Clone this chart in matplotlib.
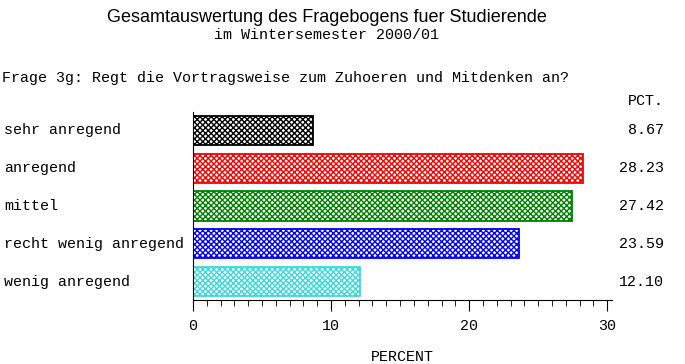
import matplotlib
matplotlib.use("Agg")
import matplotlib.pyplot as plt
from matplotlib.ticker import MultipleLocator
from matplotlib.transforms import blended_transform_factory

categories = ["sehr anregend", "anregend", "mittel", "recht wenig anregend", "wenig anregend"]
values = [8.67, 28.23, 27.42, 23.59, 12.10]
value_labels = ["8.67", "28.23", "27.42", "23.59", "12.10"]
colors = ["#000000", "#ff0000", "#008000", "#0000ff", "#40d8d8"]
xticks = [0, 10, 20, 30]

W, H = 685, 364
fig = plt.figure(figsize=(W / 100, H / 100), dpi=100)
mono = "Liberation Mono"
fs = 10.8

ax = fig.add_axes([193 / W, 1 - 300 / H, (612 - 193) / W, (300 - 112) / H])
ypos = list(range(len(categories)))
for y, v, c in zip(ypos, values, colors):
    ax.barh(y, v, height=0.77, color="white", edgecolor=c, hatch="xxxxxx", linewidth=1.3)

ax.set_xlim(0, 30.35)
ax.set_ylim(4.49, -0.49)
ax.spines["top"].set_visible(False)
ax.spines["right"].set_visible(False)
ax.set_xticks(xticks)
ax.xaxis.set_minor_locator(MultipleLocator(1))
ax.tick_params(axis="x", which="major", length=8, direction="out", pad=6)
ax.tick_params(axis="x", which="minor", length=4, direction="out")
ax.set_yticks([])
for lbl in ax.get_xticklabels():
    lbl.set_fontfamily(mono)
    lbl.set_fontsize(fs)
ax.set_xlabel("PERCENT", fontfamily=mono, fontsize=fs, labelpad=12)

trans = blended_transform_factory(fig.transFigure, ax.transData)
for y, cat, vl in zip(ypos, categories, value_labels):
    fig.text(4 / W, y, cat, fontfamily=mono, fontsize=fs, ha="left", va="center", transform=trans)
    fig.text(664 / W, y, vl, fontfamily=mono, fontsize=fs, ha="right", va="center", transform=trans)

fig.text(664 / W, 1 - 101 / H, "PCT.", fontfamily=mono, fontsize=fs, ha="right", va="center")
fig.text(2 / W, 1 - 78 / H, "Frage 3g: Regt die Vortragsweise zum Zuhoeren und Mitdenken an?",
         fontfamily=mono, fontsize=fs, ha="left", va="center")
fig.text(327 / W, 1 - 17 / H, "Gesamtauswertung des Fragebogens fuer Studierende",
         fontfamily="Liberation Sans", fontsize=13, ha="center", va="center")
fig.text(326 / W, 1 - 35 / H, "im Wintersemester 2000/01",
         fontfamily=mono, fontsize=fs, ha="center", va="center")

fig.savefig("out.png", dpi=100)
